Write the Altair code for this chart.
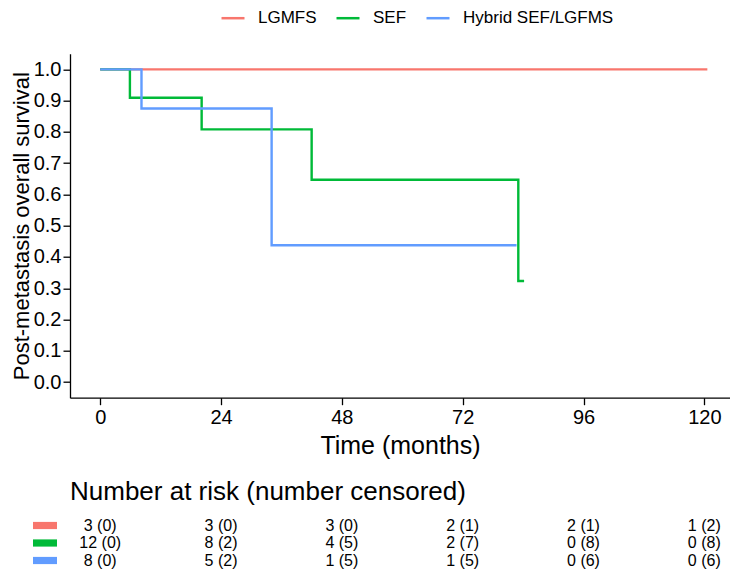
import altair as alt
import pandas as pd

groups = ["LGMFS", "SEF", "Hybrid SEF/LGFMS"]
colors = ["#F8766D", "#00BA38", "#619CFF"]

# Kaplan-Meier step curves (time in months, survival probability)
lgmfs_time = [0, 120.6]
lgmfs_surv = [1.0, 1.0]
sef_time = [0, 5.9, 20.15, 42.0, 83.05, 84.2]
sef_surv = [1.0, 0.909, 0.808, 0.647, 0.323, 0.323]
hyb_time = [0, 8.2, 34.05, 82.7]
hyb_surv = [1.0, 0.875, 0.4375, 0.4375]

# Number at risk table
risk_times = [0, 24, 48, 72, 96, 120]
lgmfs_risk = ["3 (0)", "3 (0)", "3 (0)", "2 (1)", "2 (1)", "1 (2)"]
sef_risk = ["12 (0)", "8 (2)", "4 (5)", "2 (7)", "0 (8)", "0 (8)"]
hyb_risk = ["8 (0)", "5 (2)", "1 (5)", "1 (5)", "0 (6)", "0 (6)"]

x_ticks = [0, 24, 48, 72, 96, 120]
y_ticks = [0.0, 0.1, 0.2, 0.3, 0.4, 0.5, 0.6, 0.7, 0.8, 0.9, 1.0]

FONT = "Liberation Sans"

km_rows = []
for g, ts, ss in zip(groups, [lgmfs_time, sef_time, hyb_time],
                     [lgmfs_surv, sef_surv, hyb_surv]):
    for t, s in zip(ts, ss):
        km_rows.append({"group": g, "time": t, "surv": s})
km = pd.DataFrame(km_rows)

risk_rows = []
for g, labs in zip(groups, [lgmfs_risk, sef_risk, hyb_risk]):
    for t, l in zip(risk_times, labs):
        risk_rows.append({"group": g, "time": t, "label": l})
risk = pd.DataFrame(risk_rows)
swatch = pd.DataFrame({"group": groups})

xscale = alt.Scale(domain=[-6.0, 125.1], nice=False, zero=False)
xaxis = alt.Axis(values=x_ticks, title="Time (months)", grid=False,
                 labelFontSize=20, titleFontSize=25, tickSize=7,
                 labelPadding=3, titlePadding=6, format="d")
yscale = alt.Scale(domain=[-0.05, 1.05], nice=False, zero=False)
yaxis = alt.Axis(values=y_ticks, format=".1f", title="Post-metastasis overall survival",
                 grid=False, labelFontSize=20, titleFontSize=22, tickSize=7,
                 labelPadding=2, titlePadding=0)
cscale = alt.Scale(domain=groups, range=colors)
legend = alt.Legend(orient="none", legendX=150, legendY=-48.5, direction="horizontal",
                    title=None, symbolType="stroke", symbolSize=529,
                    symbolStrokeWidth=2.5, labelFontSize=17, labelFont=FONT,
                    labelColor="black", columnPadding=14, labelOffset=12)
row_scale = alt.Scale(type="point", domain=groups, range=[471.8, 506.8], padding=0)

lines = alt.Chart(km).mark_line(interpolate="step-after", strokeWidth=2.4).encode(
    x=alt.X("time:Q", scale=xscale, axis=xaxis),
    y=alt.Y("surv:Q", scale=yscale, axis=yaxis),
    color=alt.Color("group:N", scale=cscale, legend=legend),
)

risk_text = alt.Chart(risk).mark_text(fontSize=16, font=FONT, color="black",
                                      align="center", baseline="middle").encode(
    x=alt.X("time:Q", scale=xscale, axis=xaxis),
    y=alt.Y("group:N", scale=row_scale, axis=None),
    text="label:N",
)

swatches = alt.Chart(swatch).mark_point(
    shape="M-1,-0.3L1,-0.3L1,0.3L-1,0.3Z", size=576, filled=True, opacity=1,
    strokeWidth=0).encode(
    x=alt.value(-25),
    y=alt.Y("group:N", scale=row_scale, axis=None),
    color=alt.Color("group:N", scale=cscale, legend=legend),
)

table_title = alt.Chart(pd.DataFrame({"t": ["Number at risk (number censored)"]})).mark_text(
    align="left", baseline="alphabetic", fontSize=26, font=FONT, color="black").encode(
    x=alt.value(0), y=alt.value(446.3), text="t:N")

chart = alt.layer(lines, risk_text, swatches, table_title).resolve_scale(
    y="independent"
).properties(
    width=660, height=344,
    autosize=alt.AutoSizeParams(type="none"),
    padding={"left": 62, "top": 45.7, "right": 0, "bottom": 172.3},
).configure_view(stroke=None).configure_axis(
    domainColor="black", tickColor="black", labelColor="black", titleColor="black",
    labelFont=FONT, titleFont=FONT, titleFontWeight="normal", domainWidth=1.3,
    tickWidth=1.3,
)

chart.save("out.html", embed_options={"renderer": "svg", "actions": False})
